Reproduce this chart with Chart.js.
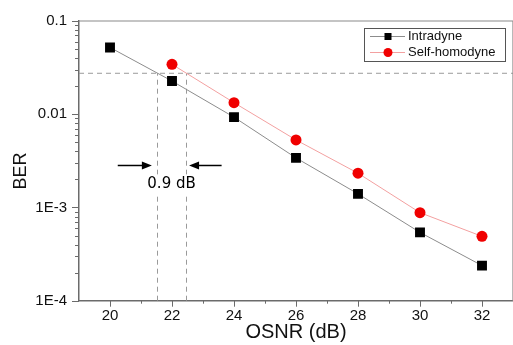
<!DOCTYPE html>
<html>
<head>
<meta charset="utf-8">
<script src="https://cdn.jsdelivr.net/npm/chart.js@4/dist/chart.umd.min.js"></script>
<style>
  html, body { margin: 0; padding: 0; background: #fff; overflow: hidden; }
  #wrap { width: 520px; height: 345px; }
</style>
</head>
<body>
<div id="wrap"><canvas id="berChart"></canvas></div>
<script>
// Courbes BER en fonction de l'OSNR.

const osnr = [20, 22, 24, 26, 28, 30, 32];
const berIntradyne = [0.052, 0.0227, 0.0093, 0.0034, 0.0014, 0.00054, 0.000238];
const osnrSelf = [22, 24, 26, 28, 30, 32];
const berSelf = [0.0343, 0.0133, 0.0053, 0.00233, 0.00088, 0.00049];

const xTicks = [20, 22, 24, 26, 28, 30, 32];
const yTicks = [1e-4, 1e-3, 1e-2, 1e-1];
const yTickLabels = ['1E-4', '1E-3', '0.01', '0.1'];

// repères : seuil horizontal, deux OSNR requis, flèches et écart
const berSeuil = 0.0275;
const osnrRequis = [21.52, 22.45];
const fleches = [[20.25, 21.35], [23.6, 22.55]];
const berFleche = 0.00282;
const ecartTexte = '0.9 dB';

const gris = '#6b6b6b';

const decor = {
  id: 'decor',
  beforeDatasetsDraw(chart) {
    const { ctx, chartArea: a, scales: { x, y } } = chart;
    ctx.save();
    // pointillés
    ctx.strokeStyle = '#9a9a9a';
    ctx.lineWidth = 1;
    ctx.setLineDash([5, 4]);
    const ys = y.getPixelForValue(berSeuil);
    ctx.beginPath();
    ctx.moveTo(a.left, ys); ctx.lineTo(a.right, ys);
    osnrRequis.forEach(v => {
      const px = Math.round(x.getPixelForValue(v)) + 0.5;
      ctx.moveTo(px, a.bottom); ctx.lineTo(px, ys);
    });
    ctx.stroke();
    ctx.restore();
  },
  afterDraw(chart) {
    const { ctx, chartArea: a, scales: { x, y } } = chart;
    ctx.save();
    // cadre haut / droite
    ctx.strokeStyle = '#8a8a8a';
    ctx.lineWidth = 1.2;
    ctx.beginPath();
    ctx.moveTo(a.left, a.top); ctx.lineTo(a.right, a.top); ctx.lineTo(a.right, a.bottom);
    ctx.stroke();

    // graduations Y (majeures + mineures, vers l'extérieur)
    ctx.strokeStyle = gris;
    ctx.lineWidth = 1;
    ctx.beginPath();
    for (let d = -4; d < -1 + 1e-9; d++) {
      for (let m = 1; m <= 9; m++) {
        const v = m * Math.pow(10, d);
        if (v > 0.1 + 1e-12) break;
        const py = Math.round(y.getPixelForValue(v)) + 0.5;
        const len = m === 1 ? 7 : 4;
        ctx.moveTo(a.left - len, py); ctx.lineTo(a.left, py);
      }
    }
    // graduations X
    for (let v = 20; v <= 33; v++) {
      const px = Math.round(x.getPixelForValue(v)) + 0.5;
      const len = v % 2 === 0 ? 6 : 3;
      ctx.moveTo(px, a.bottom); ctx.lineTo(px, a.bottom + len);
    }
    ctx.stroke();

    // flèches
    const yf = y.getPixelForValue(berFleche);
    ctx.strokeStyle = '#000';
    ctx.fillStyle = '#000';
    ctx.lineWidth = 1.5;
    fleches.forEach(([from, to]) => {
      const x0 = x.getPixelForValue(from);
      const x1 = x.getPixelForValue(to);
      const dir = Math.sign(x1 - x0);
      ctx.beginPath();
      ctx.moveTo(x0, yf); ctx.lineTo(x1 - dir * 8, yf);
      ctx.stroke();
      ctx.beginPath();
      ctx.moveTo(x1, yf);
      ctx.lineTo(x1 - dir * 10, yf - 4);
      ctx.lineTo(x1 - dir * 10, yf + 4);
      ctx.closePath();
      ctx.fill();
    });
    // texte de l'écart, sur fond blanc
    const xt = (x.getPixelForValue(osnrRequis[0]) + x.getPixelForValue(osnrRequis[1])) / 2;
    ctx.font = '15px "DejaVu Sans"';
    const wt = ctx.measureText(ecartTexte).width;
    ctx.fillStyle = '#fff';
    ctx.fillRect(xt - wt / 2 - 3, yf + 9, wt + 6, 20);
    ctx.fillStyle = '#000';
    ctx.textAlign = 'center';
    ctx.textBaseline = 'middle';
    ctx.fillText(ecartTexte, xt, yf + 19);

    // titre axe Y
    ctx.save();
    ctx.translate(21, 171);
    ctx.rotate(-Math.PI / 2);
    ctx.font = '18px "Liberation Sans", Arial';
    ctx.fillStyle = '#111';
    ctx.fillText('BER', 0, 0);
    ctx.restore();

    // légende
    ctx.fillStyle = '#fff';
    ctx.fillRect(364, 28, 141, 33);
    ctx.strokeStyle = '#555';
    ctx.lineWidth = 1;
    ctx.strokeRect(364.5, 28.5, 141, 33);
    chart.data.datasets.forEach((ds, i) => {
      const ly = 36.5 + i * 16;
      ctx.strokeStyle = ds.borderColor;
      ctx.beginPath();
      ctx.moveTo(370, ly); ctx.lineTo(405, ly);
      ctx.stroke();
      ctx.fillStyle = ds.pointBackgroundColor;
      if (ds.pointStyle === 'rect') {
        ctx.fillRect(384.5, ly - 3.5, 7, 7);
      } else {
        ctx.beginPath();
        ctx.arc(388, ly, 4.5, 0, Math.PI * 2);
        ctx.fill();
      }
      ctx.fillStyle = '#111';
      ctx.font = '13px "Liberation Sans", Arial';
      ctx.textAlign = 'left';
      ctx.fillText(ds.label, 408, ly);
    });
    ctx.restore();
  },
};

new Chart(document.getElementById('berChart'), {
  type: 'line',
  data: {
    datasets: [
      {
        label: 'Intradyne',
        data: osnr.map((v, i) => ({ x: v, y: berIntradyne[i] })),
        borderColor: '#8c8c8c',
        borderWidth: 1,
        pointStyle: 'rect',
        pointRadius: 7,
        pointBackgroundColor: '#000',
        pointBorderWidth: 0,
        tension: 0,
      },
      {
        label: 'Self-homodyne',
        data: osnrSelf.map((v, i) => ({ x: v, y: berSelf[i] })),
        borderColor: '#f3a0a0',
        borderWidth: 1,
        pointStyle: 'circle',
        pointRadius: 5.5,
        pointBackgroundColor: '#f00000',
        pointBorderWidth: 0,
        tension: 0,
      },
    ],
  },
  options: {
    responsive: true,
    maintainAspectRatio: false,
    animation: false,
    layout: { padding: { top: 16, right: 3, left: 0, bottom: 0 } },
    plugins: {
      legend: { display: false },
      tooltip: { enabled: false },
    },
    scales: {
      x: {
        type: 'linear',
        min: 19,
        max: 33,
        afterFit: (s) => { s.height = 44.3; },
        afterBuildTicks: (s) => { s.ticks = xTicks.map(v => ({ value: v })); },
        grid: { display: false, drawTicks: false },
        border: { display: true, color: gris, width: 1.5 },
        ticks: {
          padding: 6,
          color: '#111',
          font: { family: '"Liberation Sans", Arial', size: 15 },
          callback: (v) => String(v),
        },
        title: {
          display: true,
          text: 'OSNR (dB)',
          color: '#111',
          font: { family: '"Liberation Sans", Arial', size: 20, lineHeight: 1 },
          padding: { top: 0, bottom: 3 },
        },
      },
      y: {
        type: 'logarithmic',
        min: 1e-4,
        max: 0.1,
        afterFit: (s) => { s.width = 79; },
        afterBuildTicks: (s) => { s.ticks = yTicks.map(v => ({ value: v })); },
        grid: { display: false, drawTicks: false },
        border: { display: true, color: gris, width: 1.5 },
        ticks: {
          padding: 12,
          color: '#111',
          font: { family: '"Liberation Sans", Arial', size: 15 },
          callback: (v) => {
            const i = yTicks.findIndex(t => Math.abs(Math.log10(t) - Math.log10(v)) < 1e-6);
            return i >= 0 ? yTickLabels[i] : '';
          },
        },
      },
    },
  },
  plugins: [decor],
});
</script>
</body>
</html>
